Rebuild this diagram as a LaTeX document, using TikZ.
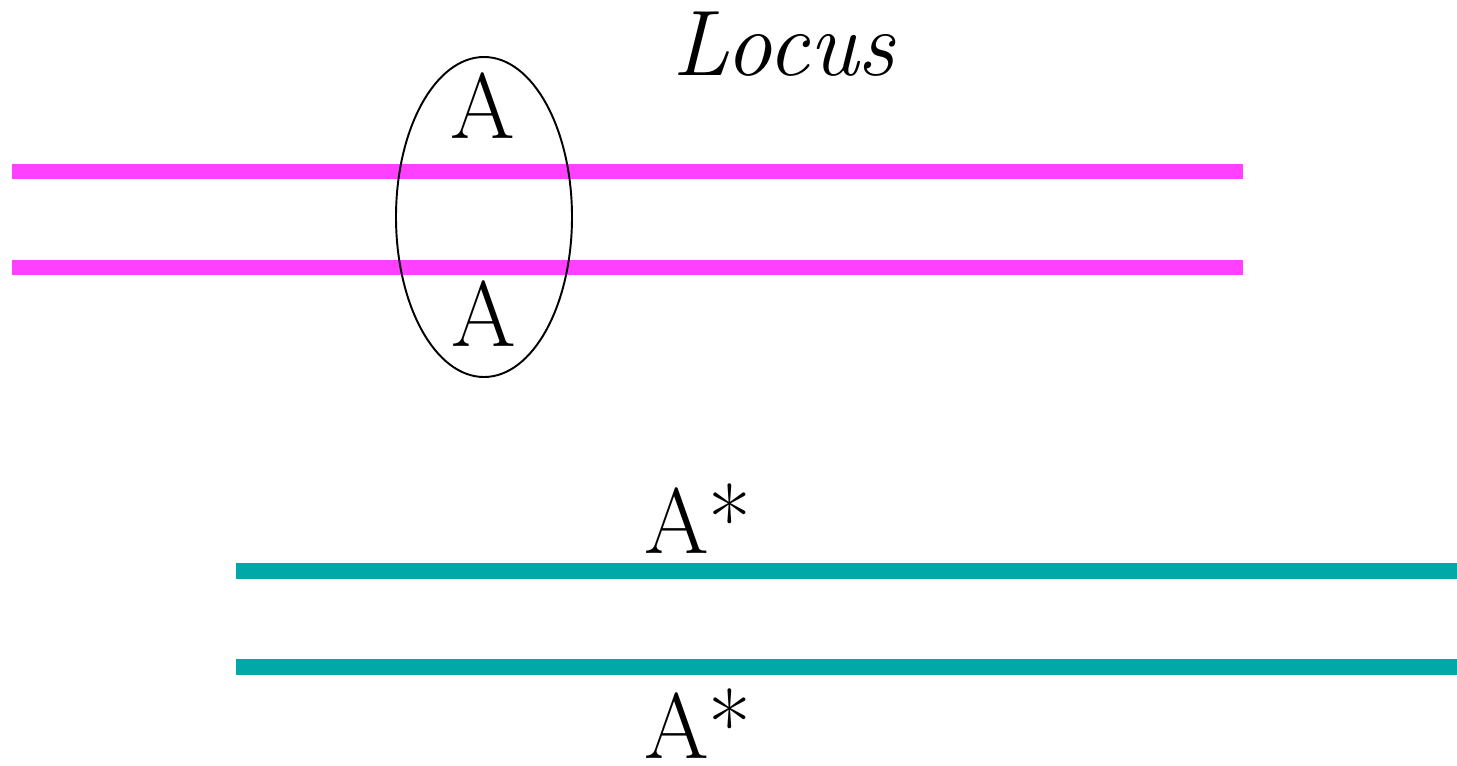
\documentclass[tikz,border=0pt]{standalone}
\usetikzlibrary{positioning}
\definecolor{chrommag}{RGB}{255,64,255}
\definecolor{chromteal}{RGB}{0,168,168}

\begin{document}
\begin{tikzpicture}[x=0.02cm,y=-0.02cm,
        letter/.style={inner sep=0pt,anchor=base,font=\fontsize{53}{60}\selectfont},
        magline/.style={line width=0.3cm,chrommag},
        tealline/.style={line width=0.32cm,chromteal}]
        \useasboundingbox (0,0) rectangle (1457,765);
        % chromosome pairs
        \draw[magline] (12,171) -- (1243,171);
        \draw[magline] (12,267) -- (1243,267);
        \draw[tealline] (236,571) -- (1457,571);
        \draw[tealline] (236,667) -- (1457,667);

        \node[letter,font=\itshape\fontsize{53}{60}\selectfont] (locus) at (784,75) {Locus};
        \node[letter] (atop) at (483,138) {A};
        \node[letter] (abot) at (484,346) {A};
        \node[letter,anchor=base west] (startop) at (644,553) {A*};
        \node[letter,anchor=base west] (starbot) at (644,758) {A*};

        \draw[line width=1.1pt] (484,217) ellipse [x radius=88,y radius=160];
    \end{tikzpicture}
\end{document}
